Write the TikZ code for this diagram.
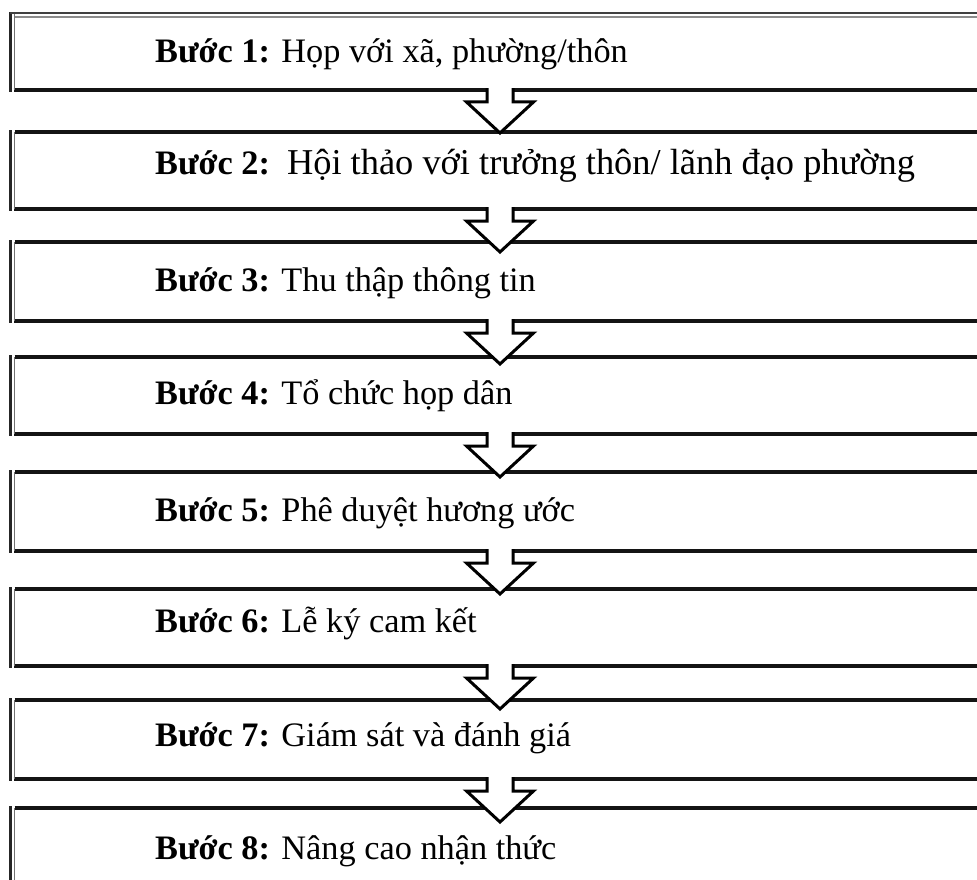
\documentclass[tikz,border=0pt]{standalone}
\usepackage{fontspec}
\setmainfont{Liberation Serif}
\usetikzlibrary{calc}
\begin{document}
\begin{tikzpicture}[x=1pt,y=-1pt,
  stepbox/.style={rectangle, draw=none, inner sep=0pt, outer sep=0pt, minimum width=985.5pt},
  edge/.style={draw=black!92, line width=3.6pt},
  inner/.style={draw=black!55, line width=1.6pt},
  outer/.style={draw=black!85, line width=2.6pt},
  flow/.style={draw=black, line width=3pt, line join=miter},
  steptext/.style={anchor=base west, inner sep=0pt, font=\fontsize{34.3}{40}\selectfont}
]
\useasboundingbox (0,0) rectangle (977,880);
\clip (0,0) rectangle (977,880);
\fill[white] (0,0) rectangle (977,880);
\coordinate (ax) at (500,0);

% the eight step boxes (right side runs off the page)
\foreach \i/\t/\b in {1/14/90, 2/132/209, 3/242/321, 4/357/434, 5/472/551, 6/589/666, 7/700/779, 8/808/930} {
  \node[stepbox, minimum height={\b-\t}] (b\i) at (507.25, {(\t+\b)/2}) {};
  \draw[edge] (b\i.north west) -- (b\i.north east);
  \draw[edge] ([xshift=-1pt]b\i.south west) -- (b\i.south east);
  \draw[inner] (b\i.north west) -- (b\i.south west);
  \draw[outer] ($(b\i.north west)+(-3.8,-1.8)$) -- ($(b\i.south west)+(-3.8,1.8)$);
}

% thin double rule on top of the first box
\draw[white, line width=4.2pt] (b1.north west) -- (b1.north east);
\draw[draw=black!75, line width=1.6pt] ($(b1.north west)+(-5,-1)$) -- ($(b1.north east)+(0,-1)$);
\draw[draw=black!45, line width=1.4pt] ($(b1.north west)+(0,3)$) -- ($(b1.north east)+(0,3)$);

% block arrows between consecutive boxes
\foreach \i in {1,...,7} {
  \fill[white] ($(b\i.south -| ax)+(-13,-2.2)$) -- ++(0,14.2) -- ++(-20.5,0) -- ++(33.5,31)
    -- ++(33.5,-31) -- ++(-20.5,0) -- ++(0,-14.2) -- cycle;
  \draw[flow] ($(b\i.south -| ax)+(-13,-1.8)$) -- ++(0,13.8) -- ++(-20.5,0) -- ++(33.5,31)
    -- ++(33.5,-31) -- ++(-20.5,0) -- ++(0,-13.8);
}

% step labels
\node[steptext] (t1) at (155,63) {\textbf{Bước 1:} Họp với xã, phường/thôn};
\node[steptext] (t2) at (155,175) {\textbf{Bước 2:}\hspace{17pt}{\fontsize{36.4}{40}\selectfont Hội thảo với trưởng thôn/ lãnh đạo phường}};
\node[steptext] (t3) at (155,291) {\textbf{Bước 3:} Thu thập thông tin};
\node[steptext] (t4) at (155,404) {\textbf{Bước 4:} Tổ chức họp dân};
\node[steptext] (t5) at (155,521) {\textbf{Bước 5:} Phê duyệt hương ước};
\node[steptext] (t6) at (155,632) {\textbf{Bước 6:} Lễ ký cam kết};
\node[steptext] (t7) at (155,746) {\textbf{Bước 7:} Giám sát và đánh giá};
\node[steptext] (t8) at (155,859) {\textbf{Bước 8:} Nâng cao nhận thức};
\end{tikzpicture}
\end{document}
